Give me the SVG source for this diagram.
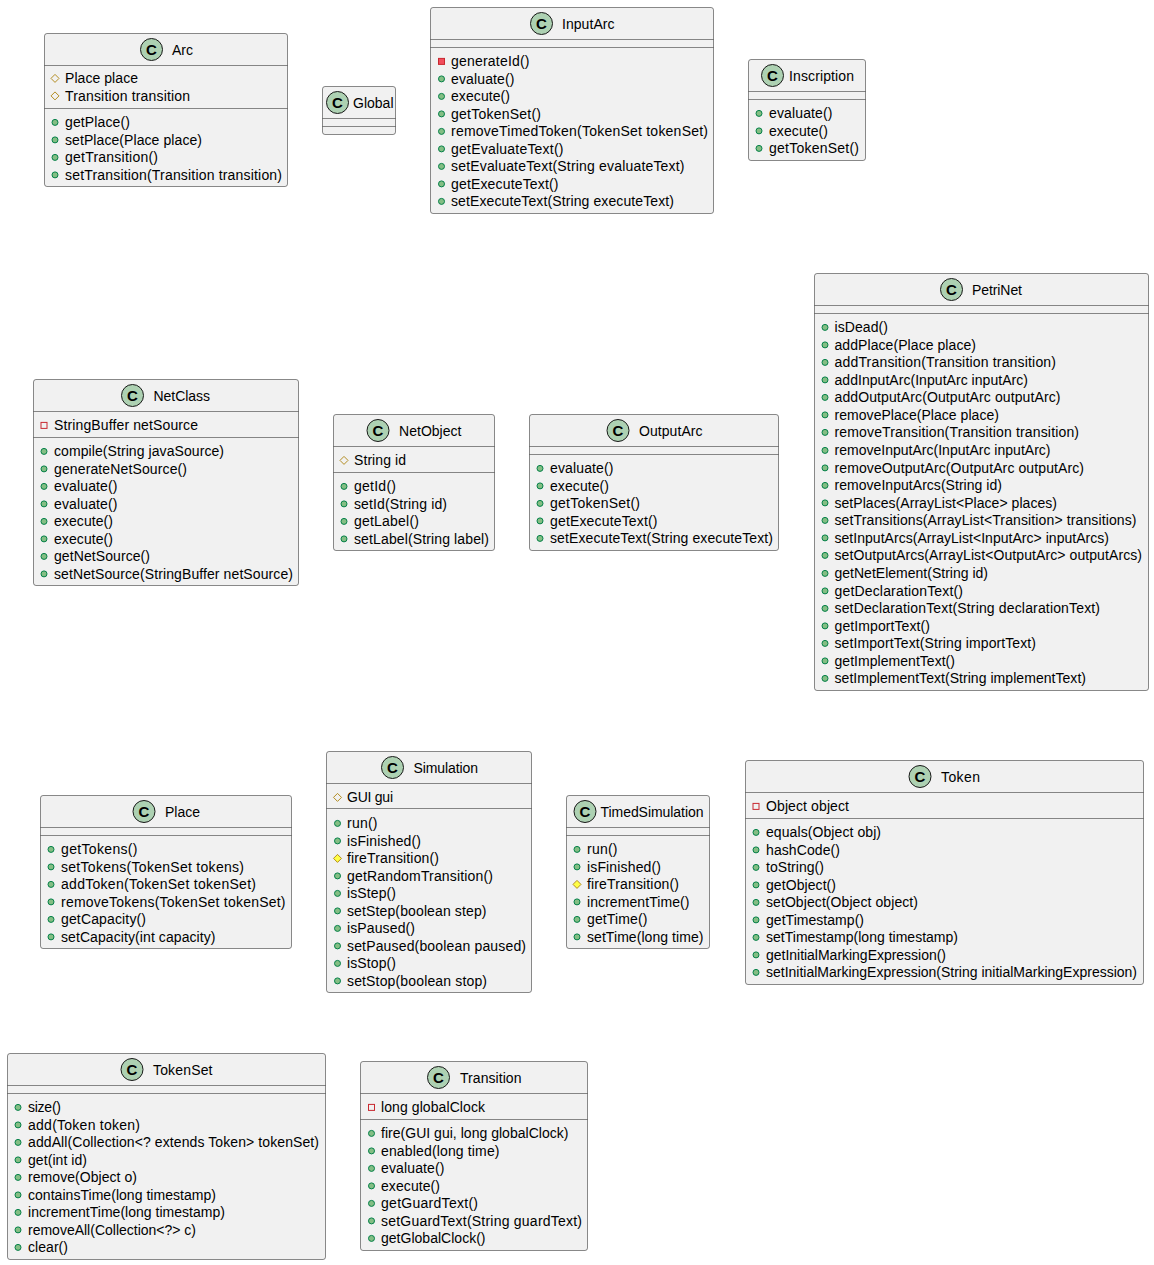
<svg xmlns="http://www.w3.org/2000/svg" width="1154" height="1265" viewBox="0 0 1154 1265">
<style>
text{font-family:"Liberation Sans",Arial,sans-serif;font-size:14px;fill:#000}
.b{fill:#F1F1F1;stroke:#181818;stroke-width:.5}
.l{stroke:#181818;stroke-width:.5;fill:none}
.c{fill:#ADD1B2;stroke:#181818;stroke-width:1}
.g{font-weight:bold;font-size:15px;text-anchor:middle}
</style>
<defs>
<circle id="pub" cy=".4" r="3" fill="#84BE84" stroke="#038048"/>
<rect id="pri" x="-3" y="-2.6" width="6" height="6" fill="#F24D5C" stroke="#C82930"/>
<rect id="prif" x="-3" y="-2.6" width="6" height="6" fill="none" stroke="#C82930"/>
<path id="pro" d="M0-3.6L4 .4L0 4.4L-4 .4Z" fill="#FFFF44" stroke="#B38D22"/>
<path id="prof" d="M0-3.6L4 .4L0 4.4L-4 .4Z" fill="none" stroke="#B38D22"/>
</defs>
<g id="Arc">
<rect class="b" x="44.5" y="33.5" width="243" height="153" rx="2.5"/><path class="l" d="M44.5 65.5H287.5M44.5 108.5H287.5"/>
<circle class="c" cx="151.5" cy="49.5" r="11"/><text class="g" x="151.5" y="55">C</text><text x="172" y="55" textLength="21">Arc</text>
<use href="#prof" x="55" y="78"/><text x="65" y="83" textLength="73">Place place</text>
<use href="#prof" x="55" y="95.5"/><text x="65" y="100.5" textLength="125">Transition transition</text>
<use href="#pub" x="55" y="122"/><text x="65" y="127" textLength="65">getPlace()</text>
<use href="#pub" x="55" y="139.5"/><text x="65" y="144.5" textLength="137">setPlace(Place place)</text>
<use href="#pub" x="55" y="157"/><text x="65" y="162" textLength="93">getTransition()</text>
<use href="#pub" x="55" y="174.5"/><text x="65" y="179.5" textLength="217">setTransition(Transition transition)</text>
</g>
<g id="Global">
<rect class="b" x="322.5" y="86.5" width="73" height="48" rx="2.5"/><path class="l" d="M322.5 118.5H395.5M322.5 126.5H395.5"/>
<circle class="c" cx="337.5" cy="102.5" r="11"/><text class="g" x="337.5" y="108">C</text><text x="353" y="108" textLength="40.5">Global</text>
</g>
<g id="InputArc">
<rect class="b" x="430.5" y="7.5" width="283" height="206" rx="2.5"/><path class="l" d="M430.5 39.5H713.5M430.5 47.5H713.5"/>
<circle class="c" cx="541.5" cy="23.5" r="11"/><text class="g" x="541.5" y="29">C</text><text x="562" y="29" textLength="52.5">InputArc</text>
<use href="#pri" x="441.5" y="61"/><text x="451" y="66" textLength="78.5">generateId()</text>
<use href="#pub" x="441.5" y="78.5"/><text x="451" y="83.5" textLength="63.5">evaluate()</text>
<use href="#pub" x="441.5" y="96"/><text x="451" y="101" textLength="59">execute()</text>
<use href="#pub" x="441.5" y="113.5"/><text x="451" y="118.5" textLength="90">getTokenSet()</text>
<use href="#pub" x="441.5" y="131"/><text x="451" y="136" textLength="257">removeTimedToken(TokenSet tokenSet)</text>
<use href="#pub" x="441.5" y="148.5"/><text x="451" y="153.5" textLength="112.5">getEvaluateText()</text>
<use href="#pub" x="441.5" y="166"/><text x="451" y="171" textLength="233.5">setEvaluateText(String evaluateText)</text>
<use href="#pub" x="441.5" y="183.5"/><text x="451" y="188.5" textLength="107.5">getExecuteText()</text>
<use href="#pub" x="441.5" y="201"/><text x="451" y="206" textLength="223">setExecuteText(String executeText)</text>
</g>
<g id="Inscription">
<rect class="b" x="748.5" y="59.5" width="117" height="101" rx="2.5"/><path class="l" d="M748.5 91.5H865.5M748.5 99.5H865.5"/>
<circle class="c" cx="772.5" cy="75.5" r="11"/><text class="g" x="772.5" y="81">C</text><text x="789" y="81" textLength="65">Inscription</text>
<use href="#pub" x="759" y="113"/><text x="769" y="118" textLength="63.5">evaluate()</text>
<use href="#pub" x="759" y="130.5"/><text x="769" y="135.5" textLength="59">execute()</text>
<use href="#pub" x="759" y="148"/><text x="769" y="153" textLength="90">getTokenSet()</text>
</g>
<g id="NetClass">
<rect class="b" x="33.5" y="379.5" width="265" height="206" rx="2.5"/><path class="l" d="M33.5 411.5H298.5M33.5 437.5H298.5"/>
<circle class="c" cx="132.5" cy="395.5" r="11"/><text class="g" x="132.5" y="401">C</text><text x="153.5" y="401" textLength="56.5">NetClass</text>
<use href="#prif" x="44" y="425"/><text x="54" y="430" textLength="144">StringBuffer netSource</text>
<use href="#pub" x="44" y="451"/><text x="54" y="456" textLength="170">compile(String javaSource)</text>
<use href="#pub" x="44" y="468.5"/><text x="54" y="473.5" textLength="133">generateNetSource()</text>
<use href="#pub" x="44" y="486"/><text x="54" y="491" textLength="63.5">evaluate()</text>
<use href="#pub" x="44" y="503.5"/><text x="54" y="508.5" textLength="63.5">evaluate()</text>
<use href="#pub" x="44" y="521"/><text x="54" y="526" textLength="59">execute()</text>
<use href="#pub" x="44" y="538.5"/><text x="54" y="543.5" textLength="59">execute()</text>
<use href="#pub" x="44" y="556"/><text x="54" y="561" textLength="96">getNetSource()</text>
<use href="#pub" x="44" y="573.5"/><text x="54" y="578.5" textLength="239">setNetSource(StringBuffer netSource)</text>
</g>
<g id="NetObject">
<rect class="b" x="333.5" y="414.5" width="161" height="136" rx="2.5"/><path class="l" d="M333.5 446.5H494.5M333.5 472.5H494.5"/>
<circle class="c" cx="378" cy="430.5" r="11"/><text class="g" x="378" y="436">C</text><text x="399" y="436" textLength="62.5">NetObject</text>
<use href="#prof" x="344" y="460"/><text x="354" y="465" textLength="52">String id</text>
<use href="#pub" x="344" y="486"/><text x="354" y="491" textLength="42">getId()</text>
<use href="#pub" x="344" y="503.5"/><text x="354" y="508.5" textLength="93">setId(String id)</text>
<use href="#pub" x="344" y="521"/><text x="354" y="526" textLength="65">getLabel()</text>
<use href="#pub" x="344" y="538.5"/><text x="354" y="543.5" textLength="135">setLabel(String label)</text>
</g>
<g id="OutputArc">
<rect class="b" x="529.5" y="414.5" width="249" height="136" rx="2.5"/><path class="l" d="M529.5 446.5H778.5M529.5 454.5H778.5"/>
<circle class="c" cx="618" cy="430.5" r="11"/><text class="g" x="618" y="436">C</text><text x="639" y="436" textLength="63.5">OutputArc</text>
<use href="#pub" x="540" y="468"/><text x="550" y="473" textLength="63.5">evaluate()</text>
<use href="#pub" x="540" y="485.5"/><text x="550" y="490.5" textLength="59">execute()</text>
<use href="#pub" x="540" y="503"/><text x="550" y="508" textLength="90">getTokenSet()</text>
<use href="#pub" x="540" y="520.5"/><text x="550" y="525.5" textLength="107.5">getExecuteText()</text>
<use href="#pub" x="540" y="538"/><text x="550" y="543" textLength="223">setExecuteText(String executeText)</text>
</g>
<g id="PetriNet">
<rect class="b" x="814.5" y="273.5" width="334" height="417" rx="2.5"/><path class="l" d="M814.5 305.5H1148.5M814.5 313.5H1148.5"/>
<circle class="c" cx="951.5" cy="289.5" r="11"/><text class="g" x="951.5" y="295">C</text><text x="972" y="295" textLength="50">PetriNet</text>
<use href="#pub" x="825" y="327"/><text x="834.5" y="332" textLength="53.5">isDead()</text>
<use href="#pub" x="825" y="344.5"/><text x="834.5" y="349.5" textLength="141.5">addPlace(Place place)</text>
<use href="#pub" x="825" y="362"/><text x="834.5" y="367" textLength="221.5">addTransition(Transition transition)</text>
<use href="#pub" x="825" y="379.5"/><text x="834.5" y="384.5" textLength="193.5">addInputArc(InputArc inputArc)</text>
<use href="#pub" x="825" y="397"/><text x="834.5" y="402" textLength="226">addOutputArc(OutputArc outputArc)</text>
<use href="#pub" x="825" y="414.5"/><text x="834.5" y="419.5" textLength="164.5">removePlace(Place place)</text>
<use href="#pub" x="825" y="432"/><text x="834.5" y="437" textLength="244.5">removeTransition(Transition transition)</text>
<use href="#pub" x="825" y="450"/><text x="834.5" y="455" textLength="216">removeInputArc(InputArc inputArc)</text>
<use href="#pub" x="825" y="467.5"/><text x="834.5" y="472.5" textLength="249.5">removeOutputArc(OutputArc outputArc)</text>
<use href="#pub" x="825" y="485"/><text x="834.5" y="490" textLength="167.5">removeInputArcs(String id)</text>
<use href="#pub" x="825" y="502.5"/><text x="834.5" y="507.5" textLength="222.5">setPlaces(ArrayList&lt;Place&gt; places)</text>
<use href="#pub" x="825" y="520"/><text x="834.5" y="525" textLength="302">setTransitions(ArrayList&lt;Transition&gt; transitions)</text>
<use href="#pub" x="825" y="537.5"/><text x="834.5" y="542.5" textLength="274.5">setInputArcs(ArrayList&lt;InputArc&gt; inputArcs)</text>
<use href="#pub" x="825" y="555"/><text x="834.5" y="560" textLength="307.5">setOutputArcs(ArrayList&lt;OutputArc&gt; outputArcs)</text>
<use href="#pub" x="825" y="573"/><text x="834.5" y="578" textLength="153.5">getNetElement(String id)</text>
<use href="#pub" x="825" y="590.5"/><text x="834.5" y="595.5" textLength="128.5">getDeclarationText()</text>
<use href="#pub" x="825" y="608"/><text x="834.5" y="613" textLength="265.5">setDeclarationText(String declarationText)</text>
<use href="#pub" x="825" y="625.5"/><text x="834.5" y="630.5" textLength="95.5">getImportText()</text>
<use href="#pub" x="825" y="643"/><text x="834.5" y="648" textLength="201.5">setImportText(String importText)</text>
<use href="#pub" x="825" y="660.5"/><text x="834.5" y="665.5" textLength="120.5">getImplementText()</text>
<use href="#pub" x="825" y="678"/><text x="834.5" y="683" textLength="251.5">setImplementText(String implementText)</text>
</g>
<g id="Place">
<rect class="b" x="40.5" y="795.5" width="251" height="153" rx="2.5"/><path class="l" d="M40.5 827.5H291.5M40.5 835.5H291.5"/>
<circle class="c" cx="144" cy="811.5" r="11"/><text class="g" x="144" y="817">C</text><text x="165" y="817" textLength="35">Place</text>
<use href="#pub" x="51" y="849"/><text x="61" y="854" textLength="76.5">getTokens()</text>
<use href="#pub" x="51" y="866.5"/><text x="61" y="871.5" textLength="183">setTokens(TokenSet tokens)</text>
<use href="#pub" x="51" y="884"/><text x="61" y="889" textLength="195">addToken(TokenSet tokenSet)</text>
<use href="#pub" x="51" y="901.5"/><text x="61" y="906.5" textLength="224.5">removeTokens(TokenSet tokenSet)</text>
<use href="#pub" x="51" y="919"/><text x="61" y="924" textLength="85">getCapacity()</text>
<use href="#pub" x="51" y="936.5"/><text x="61" y="941.5" textLength="154.5">setCapacity(int capacity)</text>
</g>
<g id="Simulation">
<rect class="b" x="326.5" y="751.5" width="205" height="241" rx="2.5"/><path class="l" d="M326.5 783.5H531.5M326.5 808.5H531.5"/>
<circle class="c" cx="392.5" cy="767.5" r="11"/><text class="g" x="392.5" y="773">C</text><text x="413.5" y="773" textLength="64.5">Simulation</text>
<use href="#prof" x="337.5" y="797"/><text x="347" y="802" textLength="46">GUI gui</text>
<use href="#pub" x="337.5" y="823"/><text x="347" y="828" textLength="30.5">run()</text>
<use href="#pub" x="337.5" y="840.5"/><text x="347" y="845.5" textLength="74">isFinished()</text>
<use href="#pro" x="337.5" y="858"/><text x="347" y="863" textLength="92">fireTransition()</text>
<use href="#pub" x="337.5" y="875.5"/><text x="347" y="880.5" textLength="146">getRandomTransition()</text>
<use href="#pub" x="337.5" y="893"/><text x="347" y="898" textLength="49">isStep()</text>
<use href="#pub" x="337.5" y="910.5"/><text x="347" y="915.5" textLength="139.5">setStep(boolean step)</text>
<use href="#pub" x="337.5" y="928"/><text x="347" y="933" textLength="68">isPaused()</text>
<use href="#pub" x="337.5" y="945.5"/><text x="347" y="950.5" textLength="179">setPaused(boolean paused)</text>
<use href="#pub" x="337.5" y="963"/><text x="347" y="968" textLength="49">isStop()</text>
<use href="#pub" x="337.5" y="980.5"/><text x="347" y="985.5" textLength="140">setStop(boolean stop)</text>
</g>
<g id="TimedSimulation">
<rect class="b" x="566.5" y="795.5" width="143" height="153" rx="2.5"/><path class="l" d="M566.5 827.5H709.5M566.5 835.5H709.5"/>
<circle class="c" cx="585" cy="811.5" r="11"/><text class="g" x="585" y="817">C</text><text x="600.5" y="817" textLength="103">TimedSimulation</text>
<use href="#pub" x="577" y="849"/><text x="587" y="854" textLength="30.5">run()</text>
<use href="#pub" x="577" y="866.5"/><text x="587" y="871.5" textLength="74">isFinished()</text>
<use href="#pro" x="577" y="884"/><text x="587" y="889" textLength="92">fireTransition()</text>
<use href="#pub" x="577" y="901.5"/><text x="587" y="906.5" textLength="102.5">incrementTime()</text>
<use href="#pub" x="577" y="919"/><text x="587" y="924" textLength="60.5">getTime()</text>
<use href="#pub" x="577" y="936.5"/><text x="587" y="941.5" textLength="116.5">setTime(long time)</text>
</g>
<g id="Token">
<rect class="b" x="745.5" y="760.5" width="398" height="224" rx="2.5"/><path class="l" d="M745.5 792.5H1143.5M745.5 818.5H1143.5"/>
<circle class="c" cx="920" cy="776.5" r="11"/><text class="g" x="920" y="782">C</text><text x="941" y="782" textLength="39">Token</text>
<use href="#prif" x="756" y="806"/><text x="766" y="811" textLength="83">Object object</text>
<use href="#pub" x="756" y="832"/><text x="766" y="837" textLength="115">equals(Object obj)</text>
<use href="#pub" x="756" y="849.5"/><text x="766" y="854.5" textLength="74">hashCode()</text>
<use href="#pub" x="756" y="867"/><text x="766" y="872" textLength="58">toString()</text>
<use href="#pub" x="756" y="884.5"/><text x="766" y="889.5" textLength="70">getObject()</text>
<use href="#pub" x="756" y="902"/><text x="766" y="907" textLength="152">setObject(Object object)</text>
<use href="#pub" x="756" y="919.5"/><text x="766" y="924.5" textLength="98">getTimestamp()</text>
<use href="#pub" x="756" y="937"/><text x="766" y="942" textLength="192">setTimestamp(long timestamp)</text>
<use href="#pub" x="756" y="954.5"/><text x="766" y="959.5" textLength="180">getInitialMarkingExpression()</text>
<use href="#pub" x="756" y="972"/><text x="766" y="977" textLength="371">setInitialMarkingExpression(String initialMarkingExpression)</text>
</g>
<g id="TokenSet">
<rect class="b" x="7.5" y="1053.5" width="318" height="206" rx="2.5"/><path class="l" d="M7.5 1085.5H325.5M7.5 1093.5H325.5"/>
<circle class="c" cx="132" cy="1069.5" r="11"/><text class="g" x="132" y="1075">C</text><text x="153" y="1075" textLength="59.5">TokenSet</text>
<use href="#pub" x="18" y="1107"/><text x="28" y="1112" textLength="33">size()</text>
<use href="#pub" x="18" y="1124.5"/><text x="28" y="1129.5" textLength="112">add(Token token)</text>
<use href="#pub" x="18" y="1142"/><text x="28" y="1147" textLength="291">addAll(Collection&lt;? extends Token&gt; tokenSet)</text>
<use href="#pub" x="18" y="1159.5"/><text x="28" y="1164.5" textLength="59">get(int id)</text>
<use href="#pub" x="18" y="1177"/><text x="28" y="1182" textLength="109">remove(Object o)</text>
<use href="#pub" x="18" y="1194.5"/><text x="28" y="1199.5" textLength="188">containsTime(long timestamp)</text>
<use href="#pub" x="18" y="1212"/><text x="28" y="1217" textLength="197">incrementTime(long timestamp)</text>
<use href="#pub" x="18" y="1229.5"/><text x="28" y="1234.5" textLength="168">removeAll(Collection&lt;?&gt; c)</text>
<use href="#pub" x="18" y="1247"/><text x="28" y="1252" textLength="40">clear()</text>
</g>
<g id="Transition">
<rect class="b" x="360.5" y="1061.5" width="227" height="189" rx="2.5"/><path class="l" d="M360.5 1093.5H587.5M360.5 1119.5H587.5"/>
<circle class="c" cx="438.5" cy="1077.5" r="11"/><text class="g" x="438.5" y="1083">C</text><text x="460" y="1083" textLength="61.5">Transition</text>
<use href="#prif" x="371.5" y="1107"/><text x="381" y="1112" textLength="104">long globalClock</text>
<use href="#pub" x="371.5" y="1133"/><text x="381" y="1138" textLength="187.5">fire(GUI gui, long globalClock)</text>
<use href="#pub" x="371.5" y="1150.5"/><text x="381" y="1155.5" textLength="118.5">enabled(long time)</text>
<use href="#pub" x="371.5" y="1168"/><text x="381" y="1173" textLength="63.5">evaluate()</text>
<use href="#pub" x="371.5" y="1185.5"/><text x="381" y="1190.5" textLength="59">execute()</text>
<use href="#pub" x="371.5" y="1203"/><text x="381" y="1208" textLength="97">getGuardText()</text>
<use href="#pub" x="371.5" y="1220.5"/><text x="381" y="1225.5" textLength="201">setGuardText(String guardText)</text>
<use href="#pub" x="371.5" y="1238"/><text x="381" y="1243" textLength="104.5">getGlobalClock()</text>
</g>
</svg>
